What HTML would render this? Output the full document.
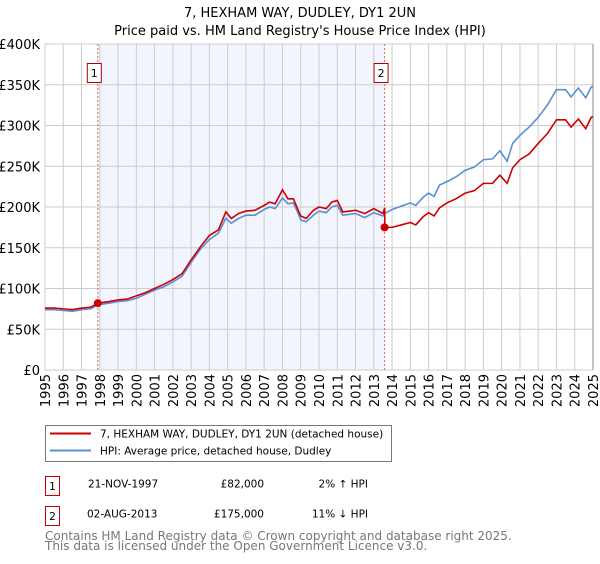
<!DOCTYPE html>
<html><head><meta charset="utf-8"><style>
body{margin:0;background:#fff;font-family:"DejaVu Sans","Liberation Sans",sans-serif}
svg text{font-family:"DejaVu Sans","Liberation Sans",sans-serif}
</style></head><body>
<svg id="c" width="600" height="560" xmlns="http://www.w3.org/2000/svg">
<text x="300" y="17" text-anchor="middle" font-size="13">7, HEXHAM WAY, DUDLEY, DY1 2UN</text>
<text x="300" y="35" text-anchor="middle" font-size="13">Price paid vs. HM Land Registry's House Price Index (HPI)</text>
<g id="plot"></g>
<g>
<rect x="45.5" y="425.5" width="346" height="36" fill="#fff" stroke="#777"/>
<line x1="50" y1="433.5" x2="91" y2="433.5" stroke="#cc0000" stroke-width="2"/>
<text x="100" y="437.5" font-size="10.5">7, HEXHAM WAY, DUDLEY, DY1 2UN (detached house)</text>
<line x1="50" y1="450.5" x2="91" y2="450.5" stroke="#5b8fd4" stroke-width="2"/>
<text x="100" y="454.5" font-size="10.5">HPI: Average price, detached house, Dudley</text>
</g>
<g font-size="10.5">
<rect x="45.5" y="476.5" width="14" height="19" fill="#fff" stroke="#cc0000"/>
<text x="52.5" y="490" text-anchor="middle">1</text>
<text x="88" y="487.5">21-NOV-1997</text>
<text x="264" y="487.5" text-anchor="end">£82,000</text>
<text x="368" y="487.5" text-anchor="end">2% ↑ HPI</text>
<rect x="45.5" y="506.5" width="14" height="19" fill="#fff" stroke="#cc0000"/>
<text x="52.5" y="520" text-anchor="middle">2</text>
<text x="87" y="517.5">02-AUG-2013</text>
<text x="264" y="517.5" text-anchor="end">£175,000</text>
<text x="368" y="517.5" text-anchor="end">11% ↓ HPI</text>
</g>
<text x="45" y="540" font-size="12" fill="#777">Contains HM Land Registry data © Crown copyright and database right 2025.</text>
<text x="45" y="550" font-size="12" fill="#777">This data is licensed under the Open Government Licence v3.0.</text>
</svg>
<script>
const yTicks=[0,50,100,150,200,250,300,350,400];
const yTickLabels=["£0","£50K","£100K","£150K","£200K","£250K","£300K","£350K","£400K"];
const xYears=[1995,1996,1997,1998,1999,2000,2001,2002,2003,2004,2005,2006,2007,2008,2009,2010,2011,2012,2013,2014,2015,2016,2017,2018,2019,2020,2021,2022,2023,2024,2025];
const hpiYears=[1995.0,1995.5,1996.0,1996.5,1997.0,1997.5,1997.9,1998.5,1999.0,1999.5,2000.0,2000.5,2001.0,2001.5,2002.0,2002.5,2003.0,2003.5,2004.0,2004.5,2004.9,2005.2,2005.6,2006.0,2006.5,2007.0,2007.3,2007.6,2008.0,2008.3,2008.6,2008.9,2009.0,2009.3,2009.7,2010.0,2010.4,2010.7,2011.0,2011.3,2011.7,2012.0,2012.5,2013.0,2013.5,2013.6,2014.0,2014.5,2015.0,2015.3,2015.7,2016.0,2016.3,2016.6,2017.0,2017.5,2018.0,2018.5,2019.0,2019.5,2019.9,2020.3,2020.6,2021.0,2021.5,2022.0,2022.5,2023.0,2023.5,2023.8,2024.2,2024.6,2024.9,2025.0];
const hpiValues=[74,74,73,72,74,75,80,82,84,85,88,93,98,102,108,115,132,148,160,168,186,180,186,190,190,197,200,198,211,204,205,190,184,182,190,195,193,200,202,190,191,192,187,193,189,192,197,201,205,202,212,217,213,227,231,237,245,249,258,259,269,256,278,288,298,310,325,344,344,335,346,334,347,348];
const priceYears=[1995.0,1995.5,1996.0,1996.5,1997.0,1997.5,1997.9,1998.5,1999.0,1999.5,2000.0,2000.5,2001.0,2001.5,2002.0,2002.5,2003.0,2003.5,2004.0,2004.5,2004.9,2005.2,2005.6,2006.0,2006.5,2007.0,2007.3,2007.6,2008.0,2008.3,2008.6,2008.9,2009.0,2009.3,2009.7,2010.0,2010.4,2010.7,2011.0,2011.3,2011.7,2012.0,2012.5,2013.0,2013.5,2013.6,2013.6,2014.0,2014.5,2015.0,2015.3,2015.7,2016.0,2016.3,2016.6,2017.0,2017.5,2018.0,2018.5,2019.0,2019.5,2019.9,2020.3,2020.6,2021.0,2021.5,2022.0,2022.5,2023.0,2023.5,2023.8,2024.2,2024.6,2024.9,2025.0];
const priceValues=[76,76,75,74,76,77,82,84,86,87,91,95,100,105,111,118,135,151,165,172,194,186,192,195,196,202,206,204,221,210,210,194,189,186,196,200,198,206,208,194,195,196,192,198,192,199,175,175,178,181,178,188,193,189,199,205,210,217,220,229,229,239,229,248,258,265,278,290,307,307,298,308,296,310,311];
const saleYears=[1997.89,2013.59];
const saleValues=[82,175];
const saleLabels=["1","2"];

const X0=45,X1=593,Y0=370,Y1=44;
const xs=y=>X0+(y-1995)/30*(X1-X0);
const ys=v=>Y0-v/400*(Y0-Y1);
const NS="http://www.w3.org/2000/svg";
const g=document.getElementById('plot');
function mk(t,a,p){const e=document.createElementNS(NS,t);for(const k in a)e.setAttribute(k,a[k]);(p||g).appendChild(e);return e;}

const shade=mk('rect',{x:xs(saleYears[0]),y:Y1,width:xs(saleYears[1])-xs(saleYears[0]),height:Y0-Y1,fill:'#f2f5fe'});



yTicks.forEach((v,i)=>{
  const l=mk('line',{x1:X0,x2:X1,y1:ys(v),y2:ys(v),stroke:'#cccccc','stroke-width':1});
  
  
  const t=mk('text',{x:40,y:ys(v)+5,'text-anchor':'end','font-size':13});
  t.textContent=yTickLabels[i];
  
  
});
xYears.forEach(yr=>{
  const l=mk('line',{x1:xs(yr),x2:xs(yr),y1:Y1,y2:Y0,stroke:'#cccccc','stroke-width':1});
  
  
  const t=mk('text',{x:0,y:0,'font-size':13,'text-anchor':'end',transform:`translate(${xs(yr)+5},374) rotate(-90)`});
  t.textContent=yr;
  
  
});
const edge=mk('line',{x1:X1,x2:X1,y1:Y1,y2:Y0,stroke:'#888','stroke-width':1});



saleYears.forEach((yr,i)=>{
  const l=mk('line',{x1:xs(yr),x2:xs(yr),y1:Y1,y2:Y0,stroke:'#e06666','stroke-width':1,'stroke-dasharray':'2,2'});
  
  
  const r=mk('rect',{x:xs(yr)-10.5,y:63.5,width:14,height:19,fill:'#fff',stroke:'#aa0000'});
  
  
  const t=mk('text',{x:xs(yr)-3.5,y:77,'text-anchor':'middle','font-size':11});
  t.textContent=saleLabels[i];
  
  
});

const hp=mk('polyline',{points:hpiYears.map((y,i)=>xs(y)+','+ys(hpiValues[i])).join(' '),fill:'none',stroke:'#5b8fd4','stroke-width':1.6});


const pp=mk('polyline',{points:priceYears.map((y,i)=>xs(y)+','+ys(priceValues[i])).join(' '),fill:'none',stroke:'#cc0000','stroke-width':1.6});


saleYears.forEach((yr,i)=>{
  const c=mk('circle',{cx:xs(yr),cy:ys(saleValues[i]),r:4,fill:'#cc0000'});
  
  
});
</script>
</body></html>
